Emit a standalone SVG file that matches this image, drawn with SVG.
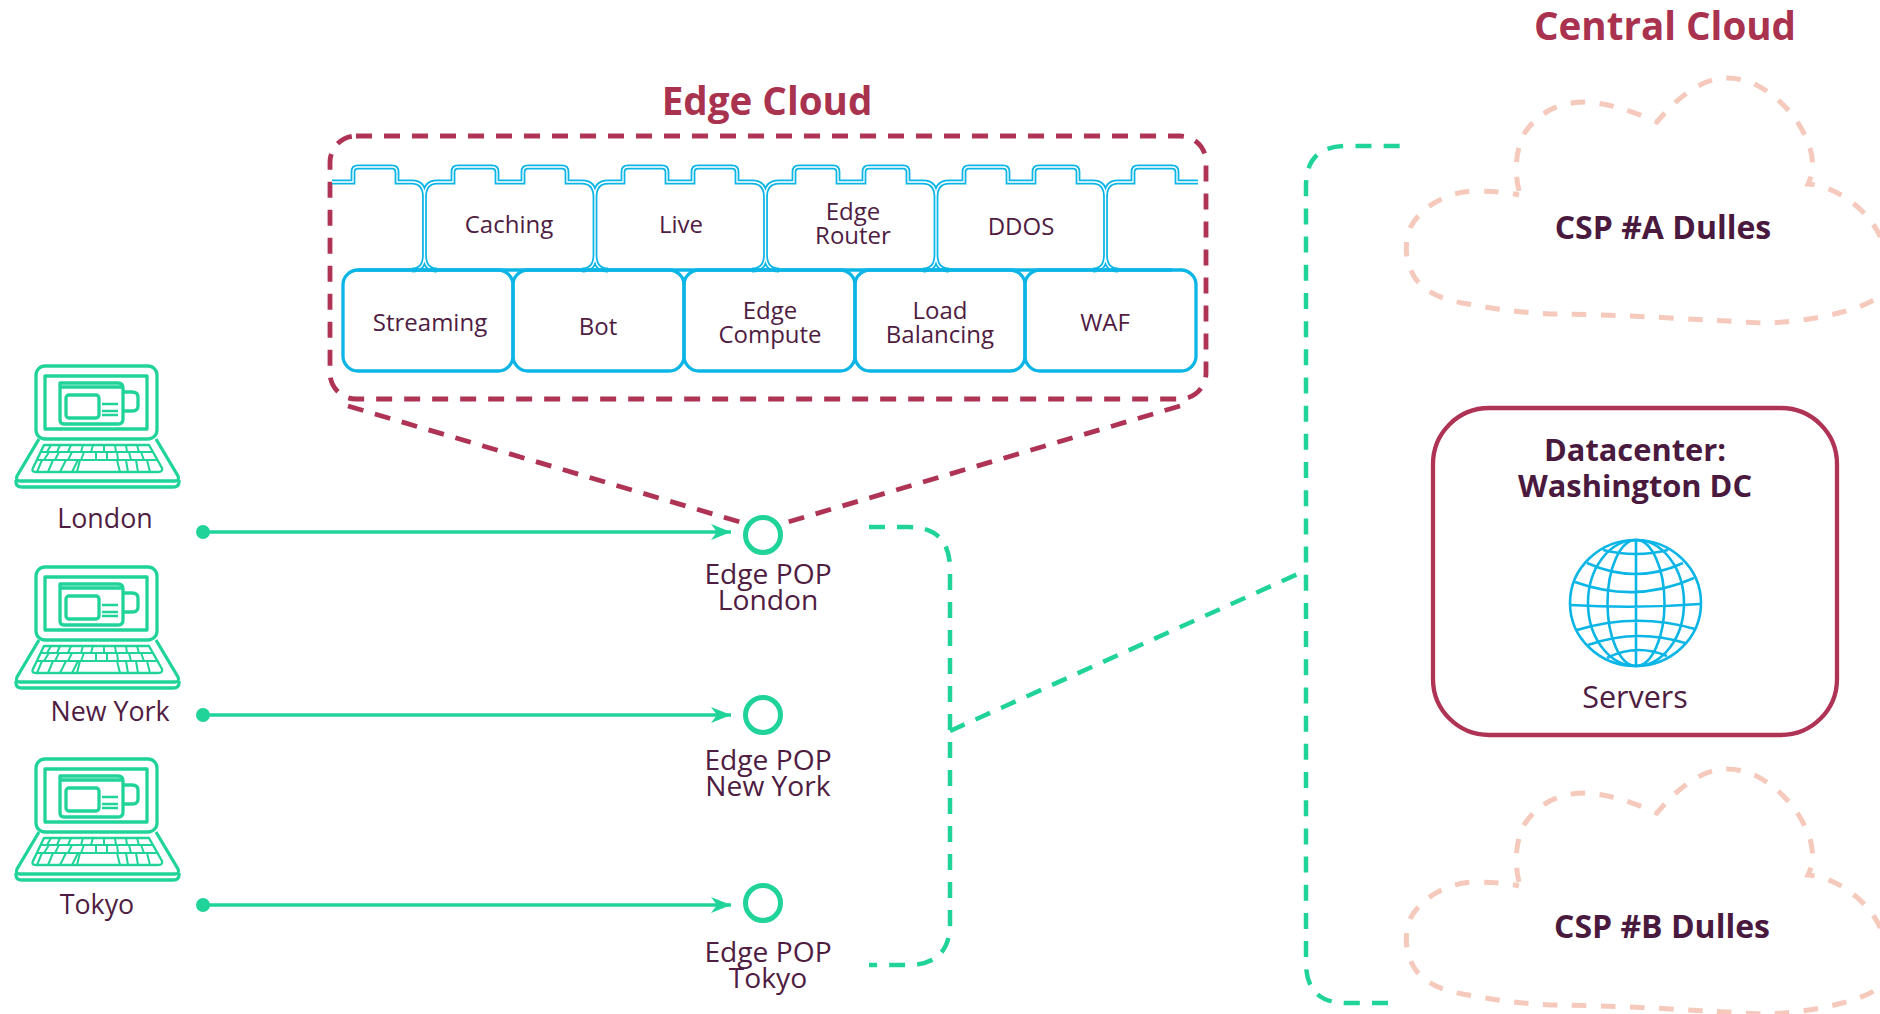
<svg xmlns="http://www.w3.org/2000/svg" width="1880" height="1014" viewBox="0 0 1880 1014">
<style>
text{font-family:"Open Sans","Noto Sans","Liberation Sans",sans-serif;fill:#4f1c42;font-size:24px;text-anchor:middle}
.p{font-size:28.200px}
.c{font-size:26.800px}
.b{font-weight:700;font-size:30.800px;fill:#4a1a3e}
.csp{font-weight:700;font-size:32px;fill:#4a1a3e}
.t{font-weight:700;font-size:38.600px;fill:#a9324f}
.g{fill:none;stroke:#20d398;stroke-width:3.300;stroke-linejoin:round}
.gd{fill:none;stroke:#20d398;stroke-width:4.500;stroke-dasharray:16 12}
.gb{fill:none;stroke:#20d398;stroke-width:4.500;stroke-dasharray:16 12.180}
.rd{fill:none;stroke:#af3355;stroke-width:4.800;stroke-dasharray:16 12}
.cl{fill:none;stroke:#f5c9bb;stroke-width:5;stroke-dasharray:14.500 14.500}
.o{fill:none;stroke:#0bb5e6;stroke-width:4.800}
.i{fill:none;stroke:#fff;stroke-width:1.300}
.s{fill:none;stroke:#0bb5e6;stroke-width:3.300}
.k{fill:none;stroke:#0bb5e6;stroke-width:2.600}
.l{stroke:#20d398;stroke-width:3.300;fill:none;marker-end:url(#ah)}
.n{fill:#fff;stroke:#20d398;stroke-width:5}
</style>
<defs>
<marker id="ah" markerUnits="userSpaceOnUse" markerWidth="22" markerHeight="18" refX="20" refY="8" orient="auto" overflow="visible"><path d="M0 0 L20 8 L0 16 L6 8Z" fill="#20d398"/></marker>
<g id="laptop" class="g">
<rect x="36" y="366" width="121" height="73" rx="9"/>
<rect x="45" y="376" width="102" height="53"/>
<path d="M60 387H123"/>
<path d="M60 383H118Q123 383 123 388V419Q123 424 118 424H64Q60 424 60 420Z"/>
<path d="M123 392H132Q138 392 138 397V406Q138 411 132 411H123"/>
<rect x="66" y="395" width="33" height="23" rx="3"/>
<path d="M102 404H118M102 411H118M102 415H118" stroke-width="2.400"/>
<path d="M39 439L17 476Q15 481 20 481H175Q180 481 178 476L156 439"/>
<path d="M16 480V482Q16 487 22 487H173Q179 487 179 482V480"/>
<path d="M44 445H149L162 468Q163 472 158 472H36Q31 472 33 468Z" stroke-width="2.400"/>
<path d="M40 452H153M37 460H157" stroke-width="2.200"/>
<path d="M51 445L47 452M60 445L57 452M71 445L68 452M83 445L81 452M93 445L91 452M104 445L104 452M115 445L116 452M126 445L127 452M137 445L139 452M49 452L44 460M59 452L55 460M72 452L68 460M84 452L81 460M96 452L96 460M107 452L107 460M117 452L118 460M129 452L131 460M141 452L144 460M42 460L37 472M53 460L48 472M66 460L60 472M78 460L72 472M80 460L77 472M117 460L120 472M126 460L128 472M136 460L138 472M147 460L150 472" stroke-width="2"/>
</g>
<path id="cloud" d="M1519 191C1514 170 1516 150 1524 134C1538 112 1560 102 1585 102C1605 103 1625 108 1657 122C1675 100 1700 78 1727 78C1752 78 1772 92 1790 112C1806 132 1820 160 1808 184C1830 186 1850 198 1866 215C1875 226 1881 235 1885 250C1894 270 1895 283 1880 296C1860 312 1800 323 1763 323C1700 320 1620 314 1550 314C1510 312 1480 306 1462 303C1440 299 1424 291 1415 278C1405 262 1404 245 1410 228C1418 212 1440 193 1473 191C1490 191 1505 192 1519 195"/>
<g id="globe-art">
<ellipse cx="1635.500" cy="603" rx="65.500" ry="63"/>
<ellipse cx="1636" cy="603" rx="28.500" ry="63"/>
<ellipse cx="1636" cy="603" rx="48" ry="63"/>
<path d="M1636 540V666M1570 605Q1636 609 1700 604M1575 582Q1636 604 1694 578M1587 563Q1636 585 1683 563M1603 550Q1636 558 1668 550M1577 630Q1636 612 1695 629M1588 645Q1636 628 1685 643M1607 658Q1636 643 1667 656"/>
</g>
<path id="tp" d="M332 182H353V172Q353 167 358 167H392Q397 167 397 172V182H412Q424.500 182 424.500 197V255Q424.500 270 412 270M437 270Q424.500 270 424.500 255V197Q424.500 182 437 182H453V172Q453 167 458 167H492Q497 167 497 172V182H523V172Q523 167 528 167H562Q567 167 567 172V182H582Q595 182 595 197V255Q595 270 582 270M608 270Q595 270 595 255V197Q595 182 608 182H623V172Q623 167 628 167H662Q667 167 667 172V182H693V172Q693 167 698 167H732Q737 167 737 172V182H752Q765.500 182 765.500 197V255Q765.500 270 752 270M779 270Q765.500 270 765.500 255V197Q765.500 182 779 182H794V172Q794 167 799 167H833Q838 167 838 172V182H864V172Q864 167 869 167H903Q908 167 908 172V182H923Q936 182 936 197V255Q936 270 923 270M949 270Q936 270 936 255V197Q936 182 949 182H964V172Q964 167 969 167H1003Q1008 167 1008 172V182H1034V172Q1034 167 1039 167H1073Q1078 167 1078 172V182H1093Q1105.500 182 1105.500 197V255Q1105.500 270 1093 270M1118 270Q1105.500 270 1105.500 255V197Q1105.500 182 1118 182H1133V172Q1133 167 1138 167H1172Q1177 167 1177 172V182H1198"/>
</defs>

<text class="t" x="767" y="115">Edge Cloud</text>
<text class="t" x="1665" y="40">Central Cloud</text>

<g id="edge-cloud">
<rect class="rd" x="330" y="136" width="876" height="263" rx="26"/>
<path class="rd" d="M348 406L740 522M1180 406L788 522"/>
</g>

<g id="top-row">
<g id="top-outline">
<use href="#tp" class="o"/>
<use href="#tp" class="i"/>
</g>
<g id="caching"><text x="509" y="233">Caching</text></g>
<g id="live"><text x="681" y="233">Live</text></g>
<g id="edge-router"><text x="853" y="220">Edge</text><text x="853" y="244">Router</text></g>
<g id="ddos"><text x="1021" y="235">DDOS</text></g>
</g>

<g id="bottom-row">
<path class="s" d="M358 270H1172"/>
<g id="streaming"><rect class="s" x="343" y="270" width="170" height="101" rx="15"/><text x="430" y="331">Streaming</text></g>
<g id="bot"><rect class="s" x="513" y="270" width="171" height="101" rx="15"/><text x="598" y="335">Bot</text></g>
<g id="edge-compute"><rect class="s" x="684" y="270" width="171" height="101" rx="15"/><text x="770" y="319">Edge</text><text x="770" y="343">Compute</text></g>
<g id="load-balancing"><rect class="s" x="855" y="270" width="170" height="101" rx="15"/><text x="940" y="319">Load</text><text x="940" y="343">Balancing</text></g>
<g id="waf"><rect class="s" x="1025" y="270" width="171" height="101" rx="15"/><text x="1105" y="331">WAF</text></g>
</g>

<g id="client-london"><use href="#laptop"/><text class="c" x="105" y="528">London</text></g>
<g id="client-newyork"><use href="#laptop" y="201"/><text class="c" x="110" y="721">New York</text></g>
<g id="client-tokyo"><use href="#laptop" y="393"/><text class="c" x="97" y="914">Tokyo</text></g>

<g id="connectors">
<circle cx="203" cy="532" r="7" fill="#20d398"/><path class="l" d="M203 532H731"/>
<circle cx="203" cy="715" r="7" fill="#20d398"/><path class="l" d="M203 715H731"/>
<circle cx="203" cy="905" r="7" fill="#20d398"/><path class="l" d="M203 905H731"/>
<path class="gd" d="M869 527H908Q950 527 950 569V923Q950 965 908 965H869"/>
<path class="gd" d="M950 731L1300 573"/>
<path class="gb" d="M1388 1003H1346Q1306 1003 1306 963V186Q1306 146 1346 146H1400"/>
</g>

<g id="pop-london"><circle class="n" cx="763" cy="535" r="17.500"/><text class="p" x="768" y="584">Edge POP</text><text class="p" x="768" y="610">London</text></g>
<g id="pop-newyork"><circle class="n" cx="763" cy="715" r="17.500"/><text class="p" x="768" y="770">Edge POP</text><text class="p" x="768" y="796">New York</text></g>
<g id="pop-tokyo"><circle class="n" cx="763" cy="903" r="17.500"/><text class="p" x="768" y="962">Edge POP</text><text class="p" x="768" y="988">Tokyo</text></g>

<g id="csp-a"><use href="#cloud" class="cl"/><text class="csp" x="1663" y="239">CSP #A Dulles</text></g>
<g id="csp-b"><use href="#cloud" class="cl" y="691"/><text class="csp" x="1662" y="938">CSP #B Dulles</text></g>

<g id="datacenter">
<rect x="1433" y="408" width="404" height="327" rx="56" fill="none" stroke="#af3355" stroke-width="4.300"/>
<text class="b" x="1635" y="461">Datacenter:</text>
<text class="b" x="1635" y="497">Washington DC</text>
<use href="#globe-art" class="k"/>
<text x="1635" y="708" style="font-size:30.500px">Servers</text>
</g>
</svg>
